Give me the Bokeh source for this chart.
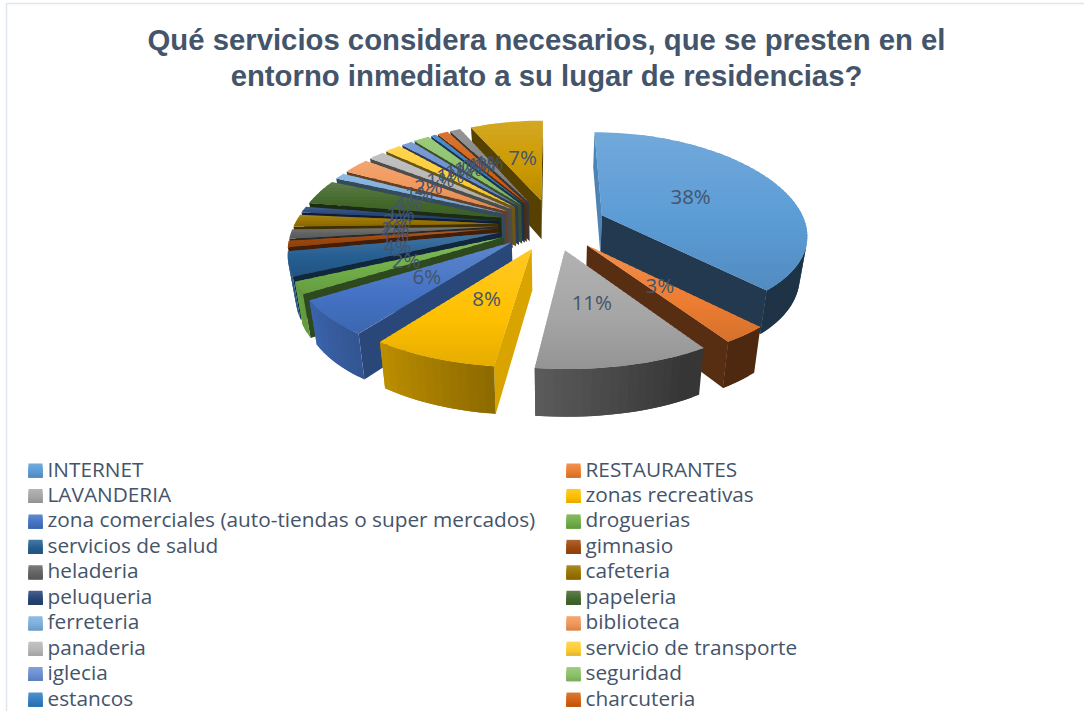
import math
from bokeh.plotting import figure
from bokeh.models import ColumnDataSource
from bokeh.core.properties import value
from bokeh.embed import file_html
from bokeh.resources import INLINE

title_lines = ["Qué servicios considera necesarios, que se presten en el",
               "entorno inmediato a su lugar de residencias?"]
categories = ["INTERNET", "RESTAURANTES", "LAVANDERIA", "zonas recreativas",
              "zona comerciales (auto-tiendas o super mercados)", "droguerias",
              "servicios de salud", "gimnasio", "heladeria", "cafeteria",
              "peluqueria", "papeleria", "ferreteria", "biblioteca",
              "panaderia", "servicio de transporte", "iglecia", "seguridad",
              "estancos", "charcuteria"]
# percent of each slice; the last two slices have legend rows cut off below the page
shares = [38, 3, 11, 8, 6, 2, 4, 1, 1.5, 2, 1, 4, 1, 2.5, 1.5, 1.5, 1, 1.5, 0.5, 1, 1, 7]
labels = ["38%", "3%", "11%", "8%", "6%", "2%", "4%", "1%", "2%", "2%", "1%", "4%",
          "1%", "2%", "1%", "1%", "1%", "1%", "0%", "1%", "1%", "7%"]
colors = ["#5B9BD5", "#ED7D31", "#A5A5A5", "#FFC000", "#4472C4", "#70AD47", "#255E91",
          "#9E480E", "#636363", "#997300", "#264478", "#43682B", "#7CAFDD", "#F1975A",
          "#B7B7B7", "#FFCD33", "#698ED0", "#8CC168", "#327DC2", "#D26012", "#848484",
          "#CC9A00"]

TEXT = "#44546A"
CX, CY, RX, RY, KX, KY, EXPL, DEPTH = 552, 224, 204, 96, 0.18, 0.13, 0.265, 40


def shade(hexcol, f):
    r, g, b = (int(hexcol[i:i + 2], 16) for i in (1, 3, 5))
    if f <= 1:
        c = [v * f for v in (r, g, b)]
    else:
        c = [v + (255 - v) * (f - 1) for v in (r, g, b)]
    return "#%02x%02x%02x" % tuple(int(round(min(255, max(0, v)))) for v in c)


def proj(X, Yf, bottom=False):
    sx = 1 / (1 - KX * Yf)
    sy = 1 / (1 - KY * Yf)
    x = X * RX * sx
    y = CY + Yf * RY * sy
    if bottom:
        return CX + x * 0.97, y + DEPTH * sy
    return CX + x, y


def clip_band(poly, y0, y1):
    def clip(pts, inside, cross):
        out = []
        for i, p in enumerate(pts):
            q = pts[(i + 1) % len(pts)]
            if inside(p):
                out.append(p)
            if inside(p) != inside(q):
                t = (cross - p[1]) / (q[1] - p[1])
                out.append((p[0] + t * (q[0] - p[0]), cross))
        return out
    a = clip(poly, lambda p: p[1] >= y0, y0)
    if not a:
        return []
    return clip(a, lambda p: p[1] <= y1, y1)


def side(a, b, p):
    return (b[0] - a[0]) * (p[1] - a[1]) - (b[1] - a[1]) * (p[0] - a[0])


xs, ys, fills = [], [], []


def add(poly, col):
    xs.append([p[0] for p in poly])
    ys.append([p[1] for p in poly])
    fills.append(col)


total = sum(shares)
slices = []
cum = 0.0
for v, lab, col in zip(shares, labels, colors):
    t0 = cum / total * 2 * math.pi
    t1 = (cum + v) / total * 2 * math.pi
    cum += v
    phi = (t0 + t1) / 2
    ax, ay = EXPL * math.sin(phi), -EXPL * math.cos(phi)
    slices.append(dict(t0=t0, t1=t1, phi=phi, ax=ax, ay=ay, col=col, lab=lab))


def visible(a, b, a2, b2, inner):
    mid = ((a2[0] + b2[0]) / 2, (a2[1] + b2[1]) / 2)
    return side(a, b, mid) * side(a, b, inner) < 0


for s in sorted(slices, key=lambda d: d["ay"]):
    n = max(3, int((s["t1"] - s["t0"]) / math.radians(2)))
    rim = []
    for i in range(n + 1):
        t = s["t0"] + (s["t1"] - s["t0"]) * i / n
        rim.append((s["ax"] + math.sin(t), s["ay"] - math.cos(t)))
    apex = (s["ax"], s["ay"])
    top = [proj(*apex)] + [proj(*r) for r in rim]
    mid_r = rim[len(rim) // 2]
    inner = proj(apex[0] * 0.5 + mid_r[0] * 0.5, apex[1] * 0.5 + mid_r[1] * 0.5)
    deg0 = math.degrees(s["t0"])
    # flat radial walls
    f_start = 0.85 if deg0 < 200 else (0.62 if deg0 < 225 else 0.42)
    for r, f in ((rim[0], f_start), (rim[-1], 0.37)):
        a, b = proj(*apex), proj(*r)
        a2, b2 = proj(*apex, bottom=True), proj(*r, bottom=True)
        if visible(a, b, a2, b2, inner):
            add([a, b, b2, a2], shade(s["col"], f))
    # outer curved wall, shaded segment by segment, each overlapping the next
    for i in range(n):
        a, b = proj(*rim[i]), proj(*rim[i + 1])
        a2, b2 = proj(*rim[i], bottom=True), proj(*rim[i + 1], bottom=True)
        if visible(a, b, a2, b2, inner):
            j = min(n, i + 2)
            b, b2 = proj(*rim[j]), proj(*rim[j], bottom=True)
            d = math.degrees(s["t0"] + (s["t1"] - s["t0"]) * (i + 0.5) / n)
            f = 0.55 + (d - 187) * 0.0065
            add([a, b, b2, a2], shade(s["col"], min(0.95, max(0.33, f))))
    # top face, vertical gradient by bands, each overlapped by the next
    y_min, y_max = min(p[1] for p in top), max(p[1] for p in top)
    y = y_min
    while y < y_max:
        band = clip_band(top, y, y + 5)
        if len(band) >= 3:
            u = (y + 2 - y_min) / max(1, y_max - y_min)
            add(band, shade(s["col"], 1.14 - 0.24 * u))
        y += 3

p = figure(width=1084, height=711, output_backend="svg", toolbar_location=None,
           x_range=(0, 1084), y_range=(711, 0), min_border=0, outline_line_color=None,
           x_axis_location=None, y_axis_location=None, margin=(0, 0, 0, 0))
p.grid.visible = False
p.background_fill_color = "white"

# chart frame
p.segment([6, 6], [3, 3], [6, 1084], [711, 3], line_color="#DFE5EC", line_width=1.5)

src = ColumnDataSource(dict(xs=xs, ys=ys, c=fills))
p.patches("xs", "ys", source=src, fill_color="c", fill_alpha=1.0, line_color=None)

# percent labels
lx, ly, lt = [], [], []
for s in slices:
    x, y = proj(s["ax"] + 0.5 * math.sin(s["phi"]), s["ay"] - 0.5 * math.cos(s["phi"]))
    lx.append(x); ly.append(y - 2); lt.append(s["lab"])
p.text(lx, ly, text=lt, text_color=TEXT, text_font=value("Open Sans"), text_font_size="20.5px",
       text_align="center", text_baseline="middle")

# title
p.text([546, 546], [39, 75], text=title_lines, text_color=TEXT,
       text_font=value("Liberation Sans"), text_font_style="bold", text_font_size="29.3px",
       text_align="center", text_baseline="middle")

# legend
lxs, lys, lc, tx, ty, tt = [], [], [], [], [], []
for i, name in enumerate(categories):
    col_x = 28 if i % 2 == 0 else 566
    row_y = 470 + (i // 2) * 25.45
    y = row_y - 7
    for k in range(7):
        lxs.append([col_x, col_x + 14, col_x + 14, col_x])
        lys.append([y + 2 * k, y + 2 * k, y + 14, y + 14])
        lc.append(shade(colors[i], 1.14 - 0.04 * k))
    tx.append(col_x + 19); ty.append(row_y - 2); tt.append(name)
p.patches(lxs, lys, fill_color=lc, fill_alpha=1.0, line_color=None)
p.text(tx, ty, text=tt, text_color=TEXT, text_font=value("Open Sans"), text_font_size="20.8px",
       text_align="left", text_baseline="middle")

open("out.html", "w").write(file_html(p, INLINE))
